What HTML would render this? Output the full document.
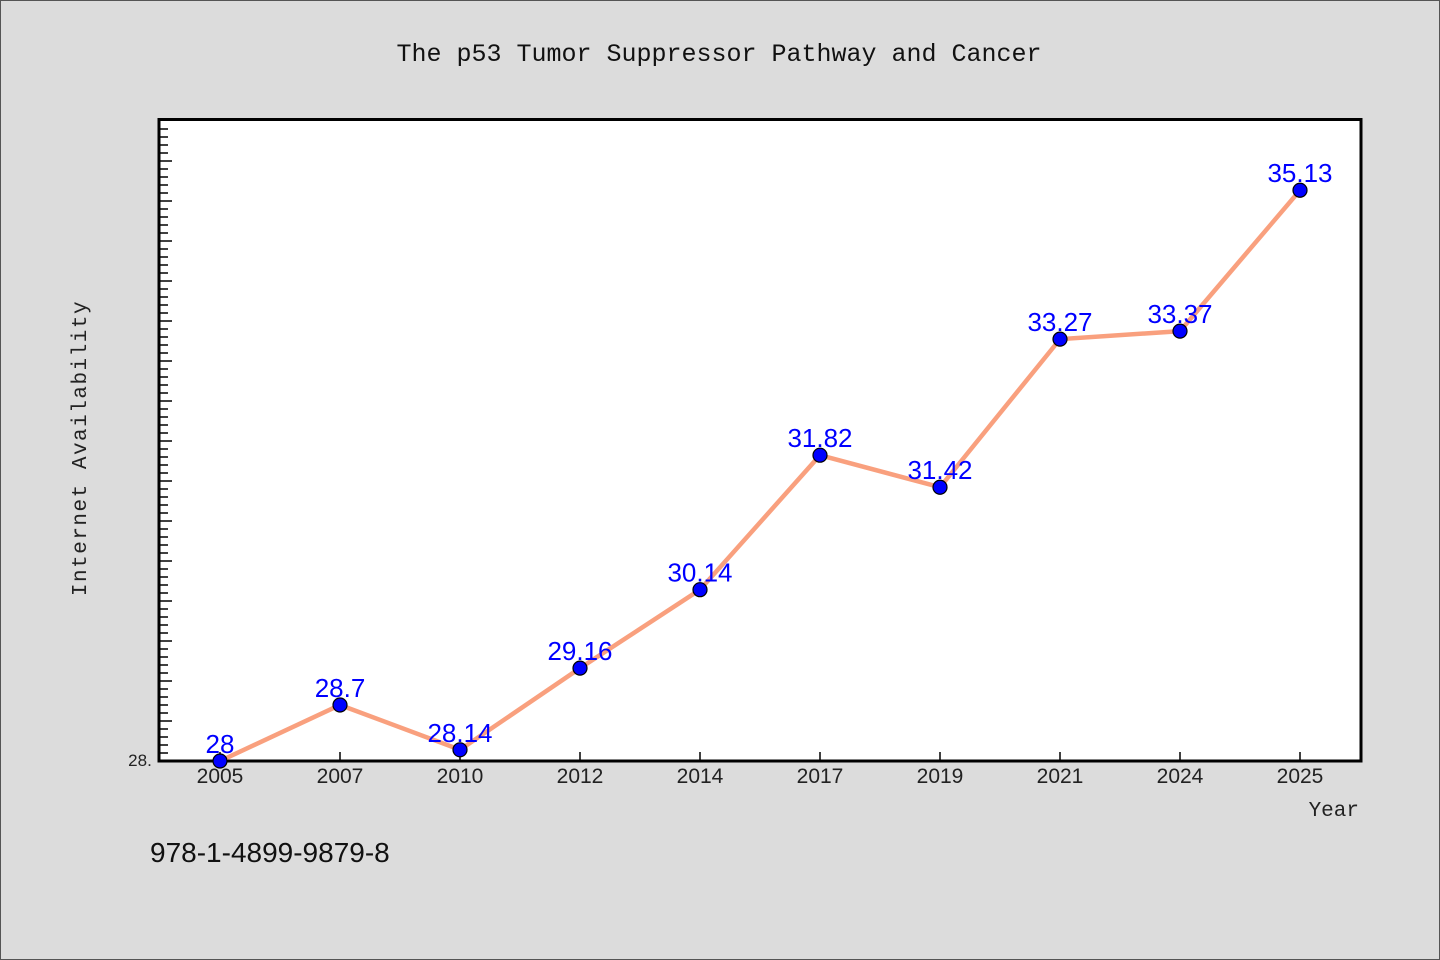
<!DOCTYPE html>
<html><head><meta charset="utf-8"><style>
body{margin:0;background:#dcdcdc;}
svg{display:block;font-family:"Liberation Mono","Noto Sans CJK SC",monospace;}
</style></head><body>
<svg width="1440" height="960">
<rect x="0.5" y="0.5" width="1439" height="959" fill="#dcdcdc" stroke="#555"/>
<text x="719" y="61" text-anchor="middle" font-size="25" fill="#111">The p53 Tumor Suppressor Pathway and Cancer</text>
<rect x="159" y="119.5" width="1202" height="641.5" fill="#fff" stroke="#000" stroke-width="3"/>
<g id="ticks"></g>
<g id="series"></g>
<text x="86" y="448" text-anchor="middle" font-size="21" fill="#222" transform="rotate(-90 86 448)" letter-spacing="1.5">Internet Availability</text>
<text x="1359" y="816" text-anchor="end" font-size="21" fill="#222">Year</text>
<text x="140" y="766" text-anchor="middle" font-family="Liberation Sans, sans-serif" font-size="17" fill="#222">28.</text>
<text x="150" y="862" font-family="Liberation Sans, sans-serif" font-size="28" fill="#111">978-1-4899-9879-8</text>
</svg>
<script>
const categories=["2005","2007","2010","2012","2014","2017","2019","2021","2024","2025"];
const values=[28,28.7,28.14,29.16,30.14,31.82,31.42,33.27,33.37,35.13];
const labels=["28","28.7","28.14","29.16","30.14","31.82","31.42","33.27","33.37","35.13"];
const yMin=28,yMax=36.02;
const NS="http://www.w3.org/2000/svg";
function xs(i){return 220+i*120;}
function ys(v){return 761-(v-yMin)/(yMax-yMin)*642;}
function mk(t,a,p){const e=document.createElementNS(NS,t);for(const k in a)e.setAttribute(k,a[k]);p.appendChild(e);return e;}
const tg=document.getElementById('ticks');
for(let k=0;k<=79;k++){const y=761-k*8;const major=k%5===0;
 const l=mk('line',{x1:160,x2:major?172:168,y1:y,y2:y,stroke:'#000','stroke-width':1.5},tg);
 
 }
const sg=document.getElementById('series');
categories.forEach((c,i)=>{
 const l=mk('line',{x1:xs(i),x2:xs(i),y1:760,y2:752,stroke:'#000','stroke-width':1.5},tg);
 
 
 const t=mk('text',{x:xs(i),y:783,'text-anchor':'middle','font-family':'Liberation Sans, sans-serif','font-size':21,fill:'#222'},tg);
 t.textContent=c;
 
 
});
const pl=mk('polyline',{points:values.map((v,i)=>xs(i)+','+ys(v)).join(' '),fill:'none',stroke:'#f9a07e','stroke-width':4.5},sg);


values.forEach((v,i)=>{
 const c=mk('circle',{cx:xs(i),cy:ys(v),r:7,fill:'#0000ff',stroke:'#000','stroke-width':1.2},sg);
 
 
 const t=mk('text',{x:xs(i),y:ys(v)-8,'text-anchor':'middle','font-family':'Liberation Sans, sans-serif','font-size':26,fill:'#0000ff'},sg);
 t.textContent=labels[i];
 
 
});
</script>
</body></html>
